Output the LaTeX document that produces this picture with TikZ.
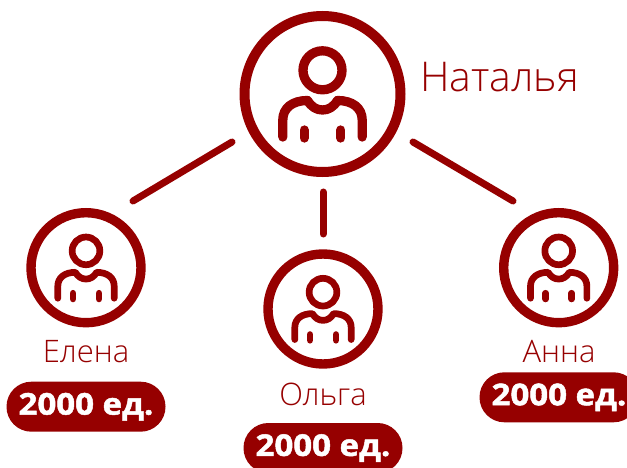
\documentclass[tikz,border=0pt]{standalone}
\usepackage{fontspec}
\setmainfont{Open Sans}
\newfontfamily\pillfont{Open Sans Bold}[FakeBold=1.6,FakeStretch=1.1]
\newfontfamily\namefont{Open Sans Light}
\definecolor{brand}{HTML}{960000}
\tikzset{
  x=1pt,y=-1pt,
  ring/.style={circle,draw=brand,inner sep=0pt,outer sep=0pt},
  bigring/.style={ring,line width=10pt,minimum size=156pt},
  smallring/.style={ring,line width=9.4pt,minimum size=110pt},
  link/.style={draw=brand,line width=7pt,line cap=round},
  personlabel/.style={text=brand,inner sep=0pt,font=\namefont\fontsize{31}{33}\selectfont},
  pill/.style={fill=brand,text=white,rounded corners=24.9pt,minimum width=159pt,minimum height=50pt,inner sep=0pt,font=\pillfont\fontsize{30}{32}\selectfont},
  person/.pic={
    \begin{scope}[draw=brand,line cap=round,line join=round,fill=none]
      \draw (0,-23.7) circle[radius=19.5];
      \draw (-39.7,43) -- (-39.7,26) .. controls (-39.7,14) and (-30,6.5) .. (-15,6.5)
        .. controls (-11,13) and (-6,16) .. (0,16)
        .. controls (6,16) and (11,13) .. (15,6.5)
        .. controls (30,6.5) and (39.7,14) .. (39.7,26) -- (39.7,43);
      \draw (-18.3,36) -- (-18.3,44);
      \draw (18.3,36) -- (18.3,44);
    \end{scope}
  }
}
\begin{document}
\begin{tikzpicture}
\useasboundingbox (0,0) rectangle (627,468);
\clip (0,0) rectangle (627,468);
\node[bigring] (nat) at (322.5,94) {};
\node[smallring] (el) at (86,267.7) {};
\node[smallring] (ol) at (323,309) {};
\node[smallring] (an) at (558.7,267.7) {};
\pic[line width=9.3pt] at (nat) {person};
\pic[line width=6.7pt,scale=0.71] at (el) {person};
\pic[line width=6.7pt,scale=0.71] at (ol) {person};
\pic[line width=6.7pt,scale=0.71] at (an) {person};
\coordinate (la) at (232,142);
\coordinate (lb) at (133,201);
\coordinate (ca) at (323,192);
\coordinate (cb) at (323,234);
\coordinate (ra) at (413,142);
\coordinate (rb) at (513,201);
\draw[link] (la) -- (lb);
\draw[link] (ca) -- (cb);
\draw[link] (ra) -- (rb);
\node[personlabel,font=\namefont\fontsize{41}{43}\selectfont,anchor=west] (tn) at (420,77) {Наталья};
\node[personlabel] (te) at (86,352) {Елена};
\node[personlabel] (to) at (323,394) {Ольга};
\node[personlabel] (ta) at (559,352) {Анна};
\node[pill] (pe) at (86,406.7) {2000 ед.};
\node[pill] (po) at (323,448) {2000 ед.};
\node[pill] (pa) at (559,397.3) {2000 ед.};
\end{tikzpicture}
\end{document}
